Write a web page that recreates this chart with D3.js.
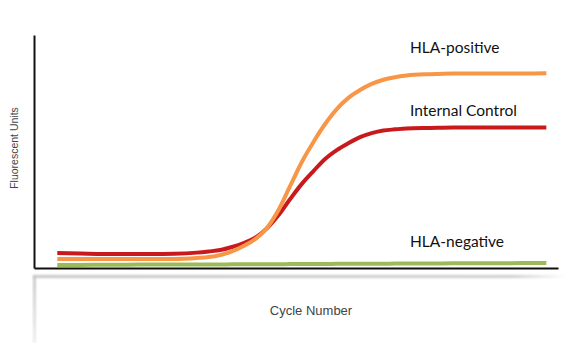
<!DOCTYPE html>
<html>
<head>
<meta charset="utf-8">
<script src="https://cdn.jsdelivr.net/npm/d3@7"></script>
<style>
  html, body { margin: 0; padding: 0; background: #ffffff; }
  svg { display: block; }
</style>
</head>
<body>
<svg id="chart" width="570" height="343"></svg>
<script>
// Amplification curves (fluorescence vs. PCR cycle)
const cycles = [2, 4, 6, 8, 10, 12, 14, 15, 16, 17, 18, 19, 20, 21, 22, 23, 24, 25, 26, 27, 28, 29, 30, 31, 32, 34, 36, 38, 40, 42, 44];

const hlaPositive = [3.9, 3.9, 3.9, 3.9, 3.9, 3.9, 4.3, 4.7, 5.6, 7.1, 9.4, 12.4, 17.2, 24.9, 35.2, 45.5, 54.1, 61.8, 68.2, 73.0, 76.4, 79.0, 80.8, 81.9, 82.6, 83.2, 83.5, 83.5, 83.5, 83.5, 83.6];
const internalControl = [6.4, 6.2, 6.0, 6.0, 6.0, 6.1, 6.6, 7.1, 7.7, 9.0, 10.7, 13.0, 17.0, 22.7, 29.6, 36.1, 41.6, 46.8, 50.6, 53.6, 56.2, 57.9, 59.0, 59.5, 59.9, 60.1, 60.3, 60.3, 60.3, 60.3, 60.3];
const hlaNegative = [1.3, 1.3, 1.4, 1.4, 1.5, 1.5, 1.5, 1.5, 1.5, 1.6, 1.6, 1.6, 1.6, 1.6, 1.7, 1.7, 1.7, 1.7, 1.8, 1.8, 1.8, 1.8, 1.8, 1.9, 1.9, 1.9, 2.0, 2.0, 2.0, 2.1, 2.1];

const seriesNames = ["HLA-positive", "Internal Control", "HLA-negative"];
const seriesColors = ["#f79646", "#c81a1c", "#9bbb59"];

const xTitle = "Cycle Number";
const yTitle = "Fluorescent Units";

const svg = d3.select("#chart");

const x = d3.scaleLinear().domain([0, 45]).range([34, 558]);
const y = d3.scaleLinear().domain([0, 100]).range([268, 35]);

// soft grey "reflection" under the axes
const defs = svg.append("defs");
const gh = defs.append("linearGradient").attr("id", "fadeH").attr("x1", "0%").attr("x2", "100%");
gh.append("stop").attr("offset", "0%").attr("stop-color", "#c8c8c8");
gh.append("stop").attr("offset", "90%").attr("stop-color", "#cfcfcf");
gh.append("stop").attr("offset", "100%").attr("stop-color", "#ffffff");
const gv = defs.append("linearGradient").attr("id", "fadeV").attr("x1", "0%").attr("x2", "0%").attr("y1", "0%").attr("y2", "100%");
gv.append("stop").attr("offset", "0%").attr("stop-color", "#c8c8c8");
gv.append("stop").attr("offset", "100%").attr("stop-color", "#eeeeee");
defs.append("filter").attr("id", "soft").attr("x", "-10%").attr("y", "-50%").attr("width", "120%").attr("height", "200%")
  .append("feGaussianBlur").attr("stdDeviation", 1.1);

svg.append("rect").attr("x", 33).attr("y", 275).attr("width", 533).attr("height", 3)
  .attr("fill", "url(#fadeH)").attr("filter", "url(#soft)");
svg.append("rect").attr("x", 33).attr("y", 276).attr("width", 3).attr("height", 67)
  .attr("fill", "url(#fadeV)").attr("filter", "url(#soft)");

// series lines
const allSeries = [hlaPositive, internalControl, hlaNegative];
const line = d3.line()
  .x((d, i) => x(cycles[i]))
  .y(d => y(d))
  .curve(d3.curveMonotoneX);

const drawOrder = [2, 1, 0];
drawOrder.forEach(k => {
  svg.append("path")
    .datum(allSeries[k])
    .attr("d", line)
    .attr("fill", "none")
    .attr("stroke", seriesColors[k])
    .attr("stroke-width", 4)
    .attr("stroke-linecap", "butt");
});

// axes (no ticks)
const xAxis = d3.axisBottom(x).tickValues([]).tickSizeOuter(0);
const yAxis = d3.axisLeft(y).tickValues([]).tickSizeOuter(0);
svg.append("g").attr("transform", `translate(0,${y(0)})`).call(xAxis)
  .select(".domain").attr("stroke", "#111").attr("stroke-width", 2);
svg.append("g").attr("transform", `translate(${x(0)},0)`).call(yAxis)
  .select(".domain").attr("stroke", "#111").attr("stroke-width", 2);

// series labels
const labelY = [53, 116, 247];
seriesNames.forEach((name, k) => {
  svg.append("text")
    .attr("x", 410).attr("y", labelY[k])
    .attr("font-family", "Lato, 'Open Sans', sans-serif")
    .attr("font-size", 15.5)
    .attr("fill", "#111")
    .text(name);
});

// axis titles
svg.append("text")
  .attr("x", 311).attr("y", 315)
  .attr("text-anchor", "middle")
  .attr("font-family", "'Liberation Sans', Arial, sans-serif")
  .attr("font-size", 13)
  .attr("fill", "#444")
  .text(xTitle);

svg.append("text")
  .attr("transform", "translate(18,148) rotate(-90)")
  .attr("text-anchor", "middle")
  .attr("font-family", "'Liberation Sans', Arial, sans-serif")
  .attr("font-size", 10.5)
  .attr("fill", "#444")
  .text(yTitle);
</script>
</body>
</html>
